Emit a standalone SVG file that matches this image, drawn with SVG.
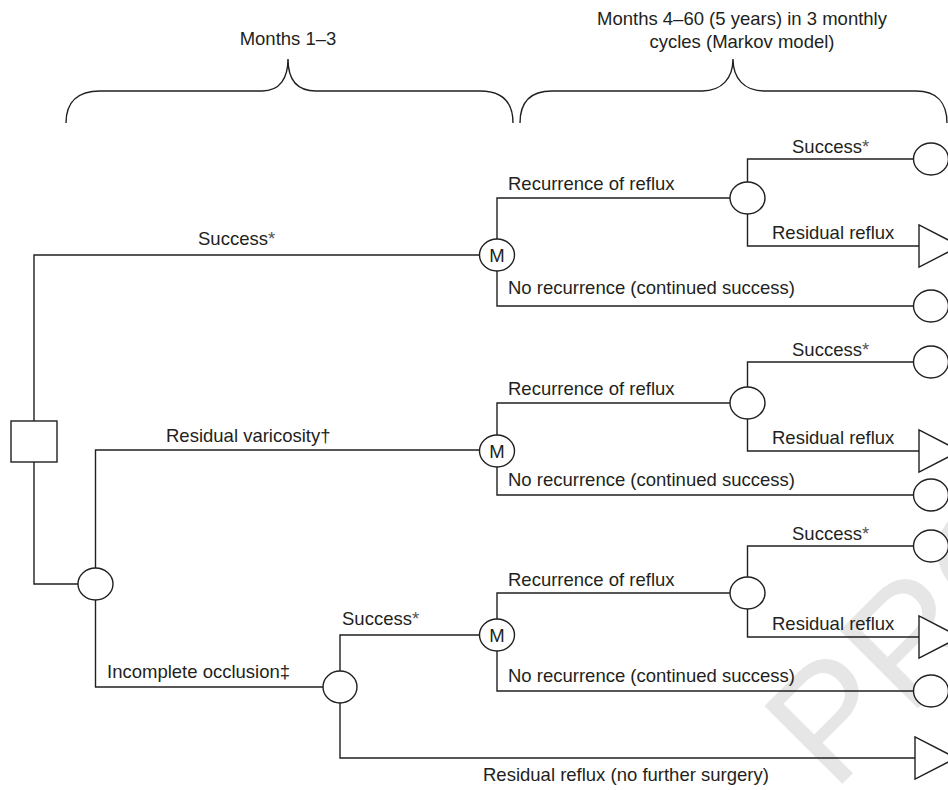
<svg xmlns="http://www.w3.org/2000/svg" width="948" height="790" viewBox="0 0 948 790">
<style>
.ln{fill:none;stroke:#231f20;stroke-width:1.4}
.nd{fill:#fff;stroke:#231f20;stroke-width:1.4}
.t{font-family:"Liberation Sans",Arial,Helvetica,sans-serif;font-size:18.5px;fill:#231f20}
.c{text-anchor:middle}
.ast{fill:#555}
.wm{font-family:"Liberation Sans",Arial,Helvetica,sans-serif;font-size:160px;fill:#e6e6e6}
</style>
<rect width="948" height="790" fill="#fff"/>
<text class="wm" transform="translate(833,793) rotate(-45)">PRO</text>
<g id="braces">
<path class="ln" d="M66,123 C66,102 78,91 100,91 H262 C280,91 288,78 288,59 C288,78 296,91 316,91 H480 C502,91 513,102 513,123"/>
<path class="ln" d="M520,123 C520,102 531,91 552,91 H702 C722,91 733,78 733,59 C733,78 744,91 764,91 H916 C936,91 947,102 947,123"/>
<text class="t c" x="288" y="45">Months 1–3</text>
<text class="t c" x="742" y="25">Months 4–60 (5 years) in 3 monthly</text>
<text class="t c" x="742" y="48">cycles (Markov model)</text>
</g>
<g id="connectors">
<path class="ln" d="M34,421 V255 H479.5"/>
<path class="ln" d="M34,462 V584 H78"/>
<path class="ln" d="M95.5,568 V450 H479.5"/>
<path class="ln" d="M95.5,600 V687 H323"/>
<path class="ln" d="M340,671 V635 H479.5"/>
<path class="ln" d="M340,703 V758 H915"/>
<path class="ln" d="M497,239 V198 H730"/>
<path class="ln" d="M497,271 V306 H913.5"/>
<path class="ln" d="M747.5,182 V159 H913.5"/>
<path class="ln" d="M747.5,214 V246 H919"/>
<path class="ln" d="M497,435 V403 H730"/>
<path class="ln" d="M497,467 V495 H913.5"/>
<path class="ln" d="M747.5,387 V362 H913.5"/>
<path class="ln" d="M747.5,419 V451 H919"/>
<path class="ln" d="M497,619 V593 H730"/>
<path class="ln" d="M497,651 V691 H913.5"/>
<path class="ln" d="M747.5,577 V546 H913.5"/>
<path class="ln" d="M747.5,609 V637 H919"/>
</g>
<g id="labels">
<text class="t" x="198" y="245">Success<tspan class="ast">*</tspan></text>
<text class="t" x="166" y="442">Residual varicosity†</text>
<text class="t" x="107" y="678">Incomplete occlusion‡</text>
<text class="t" x="342" y="625">Success<tspan class="ast">*</tspan></text>
<text class="t" x="483" y="781">Residual reflux (no further surgery)</text>
<text class="t" x="508" y="190">Recurrence of reflux</text>
<text class="t" x="508" y="294">No recurrence (continued success)</text>
<text class="t" x="792" y="153">Success<tspan class="ast">*</tspan></text>
<text class="t" x="772" y="239">Residual reflux</text>
<text class="t" x="508" y="395">Recurrence of reflux</text>
<text class="t" x="508" y="486">No recurrence (continued success)</text>
<text class="t" x="792" y="356">Success<tspan class="ast">*</tspan></text>
<text class="t" x="772" y="444">Residual reflux</text>
<text class="t" x="508" y="586">Recurrence of reflux</text>
<text class="t" x="508" y="682">No recurrence (continued success)</text>
<text class="t" x="792" y="540">Success<tspan class="ast">*</tspan></text>
<text class="t" x="772" y="630">Residual reflux</text>
</g>
<g id="decision"><rect class="nd" x="11" y="421" width="46" height="41"/></g>
<g id="chance0"><ellipse class="nd" cx="95.5" cy="584" rx="17.5" ry="16"/></g>
<g id="chance-io"><ellipse class="nd" cx="340" cy="687" rx="17" ry="16"/></g>
<g id="markov1"><ellipse class="nd" cx="497" cy="255" rx="17.5" ry="16"/><text class="t c" x="497" y="261.5">M</text></g>
<g id="markov2"><ellipse class="nd" cx="497" cy="451" rx="17.5" ry="16"/><text class="t c" x="497" y="457.5">M</text></g>
<g id="markov3"><ellipse class="nd" cx="497" cy="635" rx="17.5" ry="16"/><text class="t c" x="497" y="641.5">M</text></g>
<g id="chance1"><ellipse class="nd" cx="747.5" cy="198" rx="17.5" ry="16"/></g>
<g id="chance2"><ellipse class="nd" cx="747.5" cy="403" rx="17.5" ry="16"/></g>
<g id="chance3"><ellipse class="nd" cx="747.5" cy="593" rx="17.5" ry="16"/></g>
<g id="term1a"><ellipse class="nd" cx="931" cy="159" rx="17.5" ry="16"/></g>
<g id="term1b"><polygon class="nd" points="919,225 919,267 960,246"/></g>
<g id="term1c"><ellipse class="nd" cx="931" cy="306" rx="17.5" ry="16"/></g>
<g id="term2a"><ellipse class="nd" cx="931" cy="362" rx="17.5" ry="16"/></g>
<g id="term2b"><polygon class="nd" points="919,430 919,472 960,451"/></g>
<g id="term2c"><ellipse class="nd" cx="931" cy="495" rx="17.5" ry="16"/></g>
<g id="term3a"><ellipse class="nd" cx="931" cy="546" rx="17.5" ry="16"/></g>
<g id="term3b"><polygon class="nd" points="919,616 919,658 960,637"/></g>
<g id="term3c"><ellipse class="nd" cx="931" cy="691" rx="17.5" ry="16"/></g>
<g id="term4"><polygon class="nd" points="915,737 915,779 956,758"/></g>
</svg>
